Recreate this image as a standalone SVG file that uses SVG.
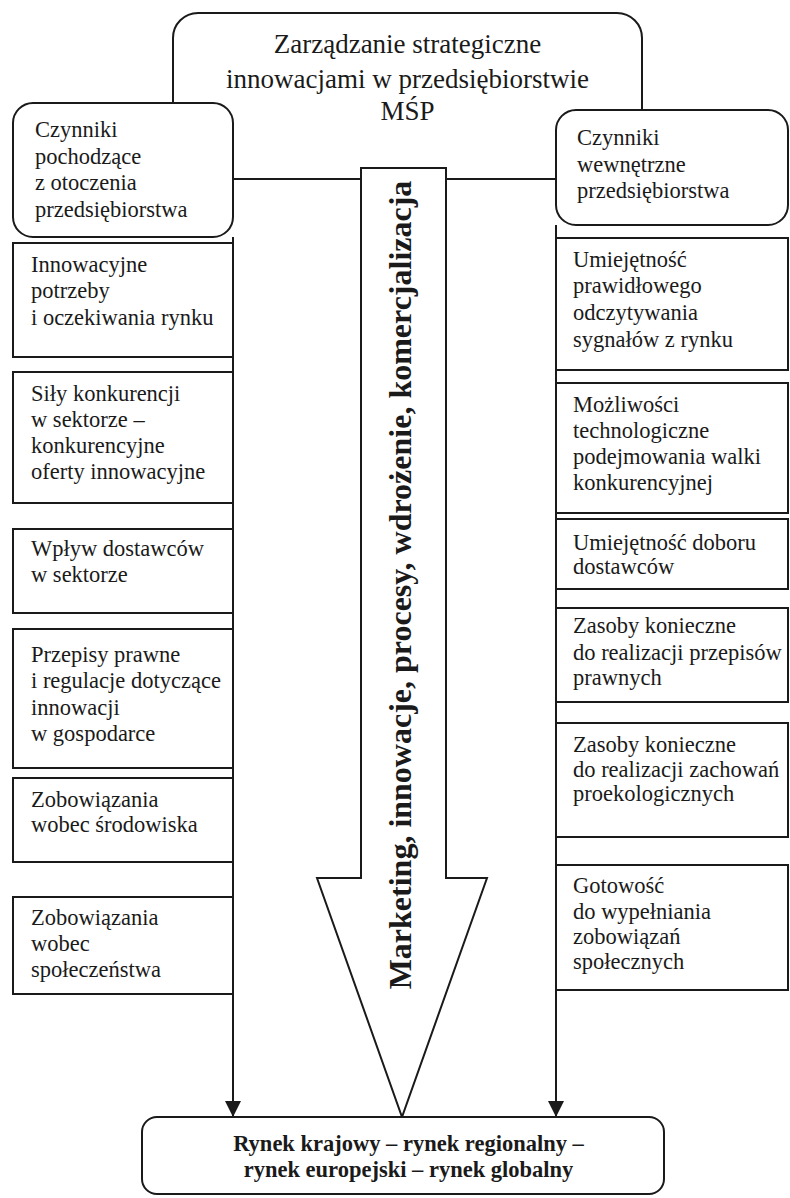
<svg xmlns="http://www.w3.org/2000/svg" width="790" height="1198" viewBox="0 0 790 1198">
<defs>
<style>
.box{fill:#fff;stroke:#1a1a1a;stroke-width:2}
.t{font-family:"Liberation Serif","Times New Roman",serif;font-size:22.5px;fill:#1a1a1a}
.title{font-family:"Liberation Serif","Times New Roman",serif;font-size:27px;fill:#1a1a1a;text-anchor:middle}
.b{font-family:"Liberation Serif","Times New Roman",serif;font-weight:bold;fill:#1a1a1a;text-anchor:middle}
.ln{fill:none;stroke:#1a1a1a;stroke-width:2}
</style>
<marker id="ah" viewBox="0 0 10 10" refX="10" refY="5" markerUnits="userSpaceOnUse" markerWidth="16" markerHeight="17" orient="auto">
<path d="M0,0 L10,5 L0,10 Z" fill="#1a1a1a"/>
</marker>
</defs>
<rect width="790" height="1198" fill="#fff"/>

<g id="top">
<rect class="box" x="173" y="13" width="469" height="166" rx="25"/>
<text class="title" x="407.5" y="53">Zarządzanie strategiczne</text>
<text class="title" x="407.5" y="88">innowacjami w przedsiębiorstwie</text>
<text class="title" x="407.5" y="120">MŚP</text>
</g>

<g id="connectors">
<line class="ln" x1="233" y1="237" x2="233" y2="1117" marker-end="url(#ah)"/>
<line class="ln" x1="556" y1="225" x2="556" y2="1117" marker-end="url(#ah)"/>
</g>

<g id="left-head">
<rect class="box" x="13" y="103" width="220" height="134" rx="20"/>
<text class="t" x="35" y="137">Czynniki</text>
<text class="t" x="35" y="163.5">pochodzące</text>
<text class="t" x="35" y="190">z otoczenia</text>
<text class="t" x="35" y="216.5">przedsiębiorstwa</text>
</g>

<g id="right-head">
<rect class="box" x="556" y="110" width="232" height="115" rx="20"/>
<text class="t" x="577" y="145">Czynniki</text>
<text class="t" x="577" y="171.5">wewnętrzne</text>
<text class="t" x="577" y="198">przedsiębiorstwa</text>
</g>

<g id="arrow">
<polygon class="box" points="361,168 446,168 446,878 487,878 402,1117 317,878 361,878"/>
<text class="b" font-size="32" transform="translate(411,585) rotate(-90)">Marketing, innowacje, procesy, wdrożenie, komercjalizacja</text>
</g>

<g id="L1"><rect class="box" x="13" y="243" width="220" height="114"/>
<text class="t" x="31" y="272">Innowacyjne</text><text class="t" x="31" y="298">potrzeby</text><text class="t" x="31" y="325">i oczekiwania rynku</text></g>
<g id="L2"><rect class="box" x="13" y="372" width="220" height="131"/>
<text class="t" x="31" y="401">Siły konkurencji</text><text class="t" x="31" y="427">w sektorze –</text><text class="t" x="31" y="453">konkurencyjne</text><text class="t" x="31" y="479">oferty innowacyjne</text></g>
<g id="L3"><rect class="box" x="13" y="529" width="220" height="84"/>
<text class="t" x="31" y="556">Wpływ dostawców</text><text class="t" x="31" y="582">w sektorze</text></g>
<g id="L4"><rect class="box" x="13" y="629" width="220" height="139"/>
<text class="t" x="31" y="662">Przepisy prawne</text><text class="t" x="31" y="688">i regulacje dotyczące</text><text class="t" x="31" y="715">innowacji</text><text class="t" x="31" y="741">w gospodarce</text></g>
<g id="L5"><rect class="box" x="13" y="778" width="220" height="84"/>
<text class="t" x="31" y="807">Zobowiązania</text><text class="t" x="31" y="832">wobec środowiska</text></g>
<g id="L6"><rect class="box" x="13" y="897" width="220" height="97"/>
<text class="t" x="31" y="925">Zobowiązania</text><text class="t" x="31" y="951">wobec</text><text class="t" x="31" y="977">społeczeństwa</text></g>

<g id="R1"><rect class="box" x="556" y="238" width="232" height="132"/>
<text class="t" x="573" y="267">Umiejętność</text><text class="t" x="573" y="293">prawidłowego</text><text class="t" x="573" y="320">odczytywania</text><text class="t" x="573" y="346.5">sygnałów z rynku</text></g>
<g id="R2"><rect class="box" x="556" y="383" width="232" height="130"/>
<text class="t" x="573" y="411.5">Możliwości</text><text class="t" x="573" y="438">technologiczne</text><text class="t" x="573" y="464">podejmowania walki</text><text class="t" x="573" y="490">konkurencyjnej</text></g>
<g id="R3"><rect class="box" x="556" y="519" width="232" height="70"/>
<text class="t" x="573" y="550">Umiejętność doboru</text><text class="t" x="573" y="574">dostawców</text></g>
<g id="R4"><rect class="box" x="556" y="608" width="232" height="94"/>
<text class="t" x="573" y="633">Zasoby konieczne</text><text class="t" x="573" y="660">do realizacji przepisów</text><text class="t" x="573" y="685">prawnych</text></g>
<g id="R5"><rect class="box" x="556" y="723" width="232" height="114"/>
<text class="t" x="573" y="752">Zasoby konieczne</text><text class="t" x="573" y="777">do realizacji zachowań</text><text class="t" x="573" y="801">proekologicznych</text></g>
<g id="R6"><rect class="box" x="556" y="865" width="232" height="125"/>
<text class="t" x="573" y="893">Gotowość</text><text class="t" x="573" y="918.5">do wypełniania</text><text class="t" x="573" y="943.5">zobowiązań</text><text class="t" x="573" y="968.5">społecznych</text></g>

<g id="bottom">
<rect class="box" x="142" y="1117" width="522" height="77" rx="15"/>
<text class="b" font-size="22.5" x="408.5" y="1151">Rynek krajowy – rynek regionalny –</text>
<text class="b" font-size="22.5" x="408.5" y="1177">rynek europejski – rynek globalny</text>
</g>
</svg>
